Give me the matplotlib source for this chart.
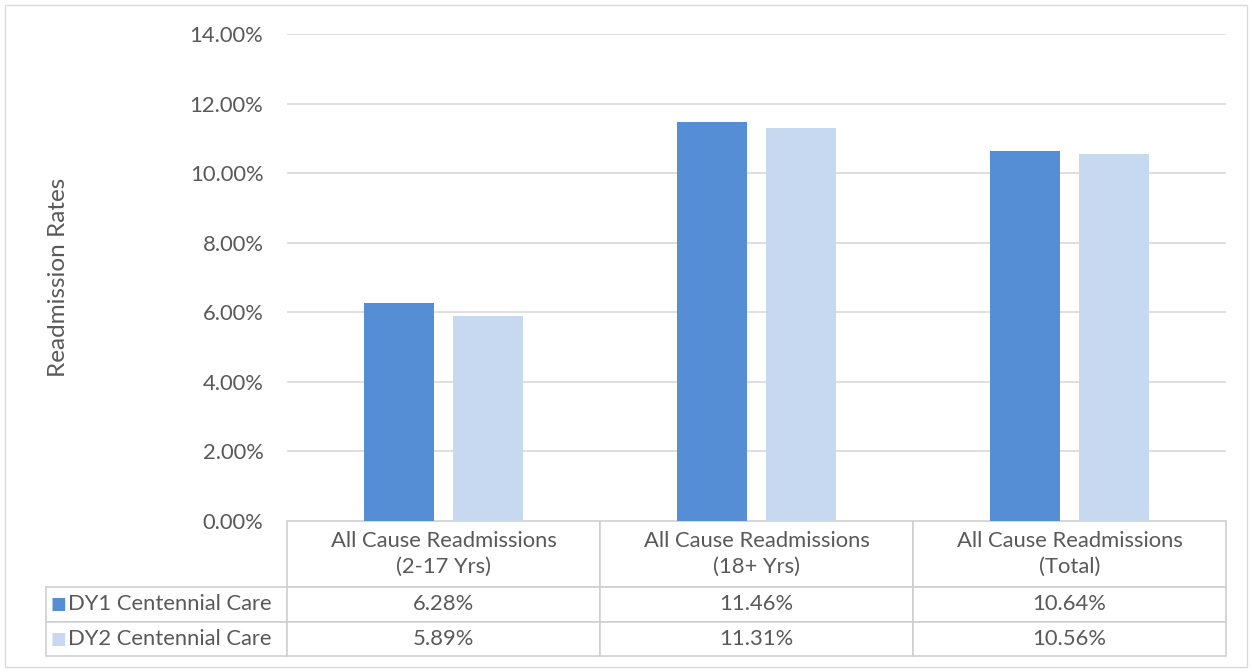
import matplotlib.pyplot as plt
import numpy as np
from matplotlib.patches import Rectangle

categories = ['All Cause Readmissions\n(2-17 Yrs)', 'All Cause Readmissions\n(18+ Yrs)',
              'All Cause Readmissions\n(Total)']
series_names = ['DY1 Centennial Care', 'DY2 Centennial Care']
dy1 = [6.28, 11.46, 10.64]
dy2 = [5.89, 11.31, 10.56]
colors = ['#558ED5', '#C6D9F1']
text_color = '#595959'
line_color = '#D9D9D9'
fs = 15.8

plt.rcParams['font.family'] = ['Lato', 'DejaVu Sans']

W, H = 1252, 672
fig = plt.figure(figsize=(W / 100, H / 100), dpi=100)

# outer chart frame
fig.add_artist(Rectangle((5 / W, 5 / H), 1242 / W, 662 / H, transform=fig.transFigure,
                         fill=False, edgecolor=line_color, lw=1))

ax_w, ax_h = 939, 487
ax = fig.add_axes([287 / W, (H - 521) / H, ax_w / W, ax_h / H])
x = np.arange(len(categories))
off = 0.142
bw = 0.224
ax.bar(x - off, dy1, bw, color=colors[0], zorder=3)
ax.bar(x + off, dy2, bw, color=colors[1], zorder=3)

ax.set_xlim(-0.5, len(categories) - 0.5)
ax.set_ylim(0, 14)
ax.set_yticks(np.arange(0, 15, 2))
ax.set_yticklabels([f'{v:.2f}%' for v in np.arange(0, 15, 2)])
ax.tick_params(axis='y', length=0, pad=17, labelsize=fs, labelcolor=text_color)
ax.set_xticks([])
ax.grid(axis='y', color=line_color, lw=1.2, zorder=0)
for s in ax.spines.values():
    s.set_visible(False)
ax.set_ylabel('Readmission Rates', fontsize=17.5, color=text_color)
ax.yaxis.set_label_coords((69 - 287) / ax_w, 0.5)

# data table under the axis (cell sizes in axes units)
cell_text = [[f'{v:.2f}%' for v in dy1], [f'{v:.2f}%' for v in dy2]]
tbl = ax.table(cellText=cell_text, rowLabels=series_names,
               colLabels=categories, cellLoc='center', rowLoc='left',
               bbox=[0, -135 / ax_h, 1, 135 / ax_h])
tbl.auto_set_font_size(False)
for (r, c), cell in tbl.get_celld().items():
    cell.set_edgecolor('#CFCFCF')
    cell.set_linewidth(1.2)
    cell.get_text().set_color(text_color)
    cell.get_text().set_fontsize(fs)
    cell.get_text().set_linespacing(1.35)
    cell.set_width((242 if c == -1 else 313) / ax_w)
    cell.set_height((66 if r == 0 else 34.5) / ax_h)
    if c == -1:
        cell.PAD = 22 / 242

# legend keys in the row labels
for i, name in enumerate(series_names):
    yc = (-(587 - 521) - 17 - i * 34.5) / ax_h
    ax.text((51 - 287) / ax_w, yc, '■', transform=ax.transAxes, color=colors[i],
            fontsize=12, va='center', ha='left', family='DejaVu Sans')

fig.savefig('out.png', dpi=100)
